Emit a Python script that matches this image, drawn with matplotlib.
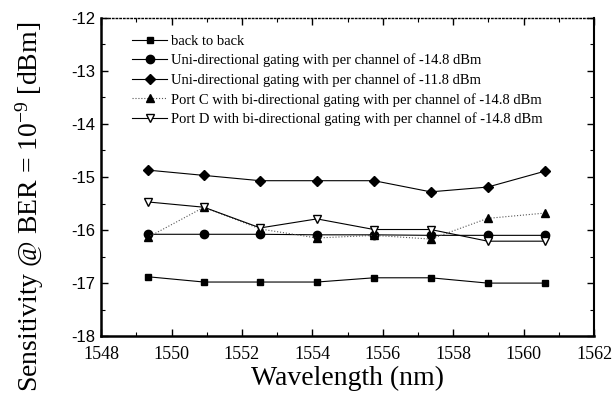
import matplotlib
matplotlib.use("Agg")
import matplotlib.pyplot as plt
from matplotlib.ticker import MultipleLocator

plt.rcParams['mathtext.fontset'] = 'custom'
plt.rcParams['mathtext.rm'] = 'Liberation Serif'
plt.rcParams['mathtext.it'] = 'Liberation Serif:italic'
plt.rcParams['axes.unicode_minus'] = False

wavelength = [1549.32, 1550.92, 1552.52, 1554.13, 1555.75, 1557.36, 1558.98, 1560.61]
back_to_back = [-16.88, -16.98, -16.98, -16.98, -16.90, -16.90, -17.00, -17.00]
uni_148 = [-16.08, -16.08, -16.08, -16.09, -16.09, -16.10, -16.10, -16.10]
uni_118 = [-14.87, -14.97, -15.07, -15.07, -15.07, -15.28, -15.19, -14.89]
port_c = [-16.14, -15.57, -15.98, -16.15, -16.10, -16.17, -15.78, -15.68]
port_d = [-15.47, -15.57, -15.96, -15.79, -15.99, -15.99, -16.21, -16.21]

labels = ["back to back",
          "Uni-directional gating with per channel of -14.8 dBm",
          "Uni-directional gating with per channel of -11.8 dBm",
          "Port C with bi-directional gating with per channel of -14.8 dBm",
          "Port D with bi-directional gating with per channel of -14.8 dBm"]

fig = plt.figure(figsize=(6.13, 4.05), dpi=100)
ax = fig.add_axes([0.165, 0.170, 0.804, 0.786])

ms = 5
ax.plot(wavelength, back_to_back, '-', color='black', lw=0.8, marker='s', ms=ms, label=labels[0])
ax.plot(wavelength, uni_148, '-', color='black', lw=0.8, marker='o', ms=ms+1, label=labels[1])
ax.plot(wavelength, uni_118, '-', color='black', lw=0.8, marker='D', ms=ms, label=labels[2])
ax.plot(wavelength, port_c, ':', color='#555555', lw=0.8, marker='^', ms=ms+1,
        markerfacecolor='black', markeredgecolor='black', label=labels[3])
ax.plot(wavelength, port_d, '-', color='black', lw=0.8, marker='v', ms=ms+1,
        markerfacecolor='white', markeredgecolor='black', label=labels[4])

ax.set_xlim(1548, 1562)
ax.set_ylim(-18, -12)
ax.xaxis.set_major_locator(MultipleLocator(2))
ax.xaxis.set_minor_locator(MultipleLocator(1))
ax.yaxis.set_major_locator(MultipleLocator(1))
ax.yaxis.set_minor_locator(MultipleLocator(0.5))
ax.tick_params(which='both', direction='in', top=True, right=True)
ax.tick_params(which='major', length=5, width=1)
ax.tick_params(which='minor', length=3, width=0.8)
ax.tick_params(axis='x', which='major', pad=7)
ax.tick_params(axis='y', which='major', pad=4)

for s in ['left', 'bottom']:
    ax.spines[s].set_linewidth(1.8)
ax.spines['right'].set_linewidth(1.5)
ax.spines['top'].set_linewidth(1.0)
ax.spines['top'].set_linestyle(':')

for lab in ax.get_xticklabels():
    lab.set_fontfamily('Liberation Serif')
    lab.set_fontsize(13)
for lab in ax.get_yticklabels():
    lab.set_fontfamily('Liberation Sans')
    lab.set_fontsize(12)

ax.set_xlabel('Wavelength (nm)', fontfamily='Liberation Serif', fontsize=20, labelpad=2)
ax.set_ylabel(r'Sensitivity @ BER = 10$^{-9}$ [dBm]', fontfamily='Liberation Serif', fontsize=20,
              va='center')
ax.yaxis.set_label_coords(-0.145, 0.405)

leg = ax.legend(loc='upper left', bbox_to_anchor=(0.045, 0.975), frameon=False,
                prop={'family': 'Liberation Serif', 'size': 10.5}, handlelength=2.4,
                handletextpad=0.3, labelspacing=0.4, borderaxespad=0.2)

fig.savefig('out.png', dpi=100)
